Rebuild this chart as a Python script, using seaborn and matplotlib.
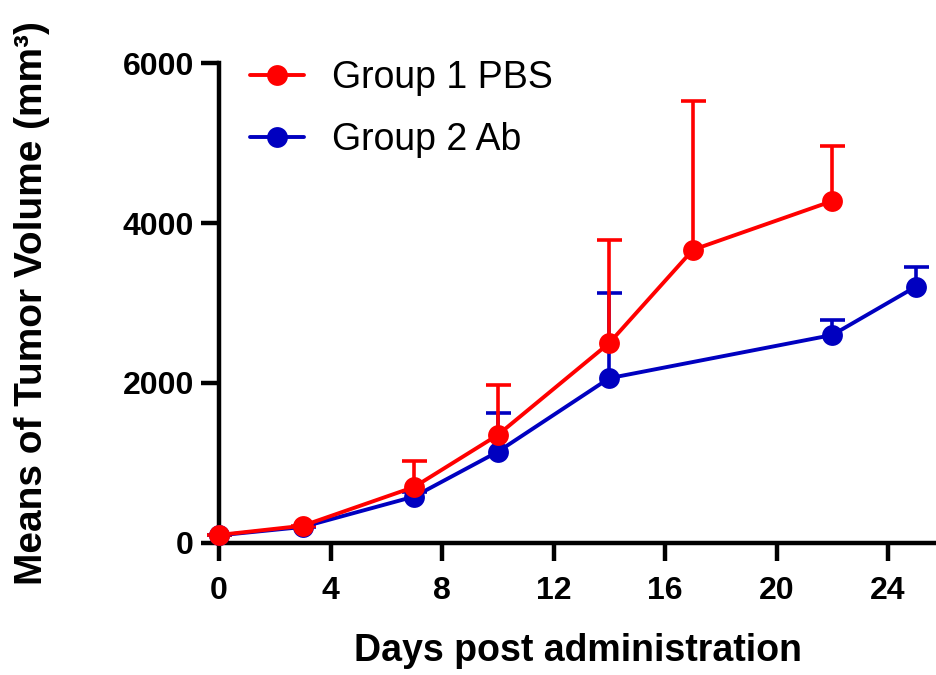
import matplotlib.pyplot as plt
import seaborn as sns
import pandas as pd

days_pbs = [0, 3, 7, 10, 14, 17, 22]
mean_pbs = [100, 215, 700, 1350, 2500, 3665, 4275]
err_pbs = [0, 0, 330, 630, 1290, 1855, 685]

days_ab = [0, 3, 7, 10, 14, 22, 25]
mean_ab = [95, 200, 580, 1140, 2060, 2600, 3205]
err_ab = [0, 0, 60, 485, 1065, 190, 245]

groups = ["Group 1 PBS", "Group 2 Ab"]
colors = ["#ff0000", "#0000c0"]

df = pd.concat([
    pd.DataFrame({"day": days_pbs, "vol": mean_pbs, "err": err_pbs, "group": groups[0]}),
    pd.DataFrame({"day": days_ab, "vol": mean_ab, "err": err_ab, "group": groups[1]}),
])

sns.set_style("ticks")
plt.rcParams["font.family"] = ["Liberation Sans", "DejaVu Sans"]

fig = plt.figure(figsize=(9.36, 6.75), dpi=100)
ax = fig.add_axes([0.234, 0.1956, 0.766, 0.711])

# blue first so red sits on top; only the upper half of each error bar
for g, c in zip(groups[::-1], colors[::-1]):
    d = df[df.group == g]
    eb = ax.errorbar(d.day, d.vol, yerr=[[0] * len(d), d.err], fmt="none", ecolor=c,
                     elinewidth=2.6, capsize=9, capthick=2.6, clip_on=False, zorder=3)
    eb[1][0].set_visible(False)

sns.lineplot(data=df, x="day", y="vol", hue="group", hue_order=groups[::-1],
             palette=colors[::-1], marker="o", markersize=15, markeredgewidth=0,
             linewidth=2.8, ax=ax, legend=False, clip_on=False, zorder=4)

# legend by hand, PBS on top like the reference
handles = [plt.Line2D([], [], color=c, marker="o", markersize=15, linewidth=2.8,
                      markeredgewidth=0) for c in colors]
ax.legend(handles, groups, loc="upper left", bbox_to_anchor=(250 / 936, 1 - 60 / 675),
          bbox_transform=fig.transFigure, frameon=False, fontsize=27, labelcolor="black",
          handlelength=1.45, handletextpad=0.75, labelspacing=0.7,
          borderpad=0, borderaxespad=0)

ax.set_xlim(0, 25.72)
ax.set_ylim(0, 6000)
ax.set_xticks(range(0, 25, 4))
ax.set_yticks([0, 2000, 4000, 6000])
sns.despine(ax=ax)
for s in ["left", "bottom"]:
    ax.spines[s].set_linewidth(3.2)
    ax.spines[s].set_color("black")
ax.tick_params(width=3.2, length=13, labelsize=23, color="black", labelcolor="black", pad=5)
ax.tick_params(axis="x", pad=11)
for lab in ax.get_xticklabels() + ax.get_yticklabels():
    lab.set_fontweight("bold")

ax.set_xlabel("Days post administration", fontsize=27, fontweight="bold", labelpad=19,
              color="black")
ax.set_ylabel("Means of Tumor Volume (mm³)", fontsize=28, fontweight="bold", labelpad=52,
              color="black")

fig.savefig("out.png", dpi=100)
